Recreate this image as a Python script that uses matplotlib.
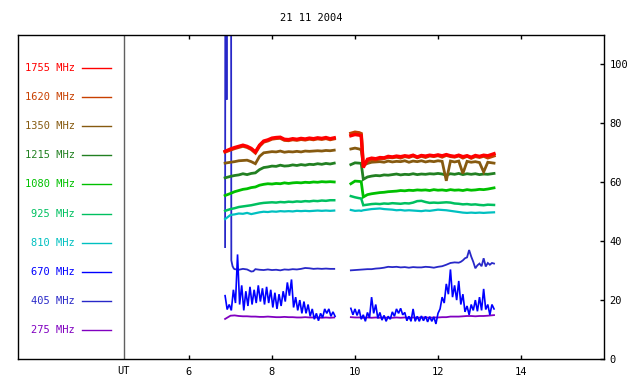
import numpy as np
import matplotlib
matplotlib.use('Agg')
import matplotlib.pyplot as plt

# time grids (UT hours) for the two observing blocks
t_a = [6.87, 7.0, 7.1, 7.2, 7.3, 7.4, 7.5, 7.6, 7.7, 7.8, 7.9, 8.0, 8.1, 8.2,
       8.3, 8.4, 8.5, 8.6, 8.7, 8.8, 8.9, 9.0, 9.1, 9.2, 9.3, 9.4, 9.5]
t_b = [9.9, 10.0, 10.1, 10.15, 10.2, 10.3, 10.4, 10.5, 10.6, 10.7, 10.8, 10.9,
       11.0, 11.1, 11.2, 11.3, 11.4, 11.5, 11.6, 11.7, 11.8, 11.9, 12.0, 12.1,
       12.2, 12.3, 12.4, 12.5, 12.6, 12.7, 12.8, 12.9, 13.0, 13.1, 13.2, 13.35]

f1755_a = [70.5, 71.3, 71.8, 72.2, 72.6, 72.2, 71.5, 70.3, 72.6, 74.0, 74.4, 75.0, 75.2, 75.3,
           74.6, 74.5, 74.8, 74.6, 74.9, 74.7, 75.0, 74.8, 75.1, 74.9, 75.2, 74.8, 75.1]
f1755_b = [75.8, 76.2, 76.0, 75.8, 65.0, 67.8, 68.2, 68.0, 68.4, 68.3, 68.8, 68.6,
           68.9, 68.7, 69.0, 68.8, 69.2, 68.6, 69.1, 68.9, 69.2, 69.0, 69.3, 69.0,
           69.4, 69.0, 68.8, 69.2, 68.7, 69.0, 68.5, 69.1, 68.8, 69.2, 69.0, 69.7]

f1620_a = [70.3, 71.0, 71.5, 71.9, 72.3, 71.9, 71.2, 70.0, 72.3, 73.7, 74.1, 74.7, 74.9, 75.0,
           74.3, 74.2, 74.5, 74.3, 74.6, 74.4, 74.7, 74.5, 74.8, 74.6, 74.9, 74.5, 74.8]
f1620_b = [76.6, 77.0, 76.8, 76.5, 66.0, 67.2, 67.8, 67.6, 68.0, 68.1, 68.5, 68.4,
           68.6, 68.3, 68.8, 68.5, 69.0, 68.4, 68.9, 68.5, 69.0, 68.8, 69.1, 68.6,
           69.2, 68.8, 68.6, 69.0, 68.3, 68.9, 68.2, 68.8, 68.5, 68.9, 68.3, 69.0]

f1350_a = [66.5, 66.8, 67.0, 67.3, 67.4, 67.5, 67.0, 66.3, 68.8, 70.0, 70.2, 70.4, 70.3, 70.6,
           70.2, 70.4, 70.3, 70.5, 70.3, 70.6, 70.5, 70.6, 70.7, 70.6, 70.8, 70.7, 70.9]
f1350_b = [71.3, 71.6, 71.3, 71.0, 65.8, 66.4, 66.8, 66.9, 67.0, 66.8, 67.2, 66.9,
           67.1, 67.0, 67.3, 66.8, 67.2, 67.0, 67.3, 66.9, 67.2, 67.0, 67.3, 67.1,
           60.5, 67.2, 66.9, 67.2, 63.0, 67.1, 66.8, 67.0, 66.7, 63.5, 66.8, 66.5]

f1215_a = [61.5, 62.0, 62.3, 62.5, 62.9, 62.6, 63.0, 63.2, 64.3, 65.0, 65.2, 65.5, 65.4, 65.8,
           65.5, 65.6, 65.9, 65.7, 66.0, 65.8, 66.1, 66.0, 66.3, 66.1, 66.4, 66.2, 66.5]
f1215_b = [66.0, 66.6, 66.5, 66.4, 61.0, 61.8, 62.1, 62.3, 62.2, 62.5, 62.4, 62.6,
           62.8, 62.5, 62.7, 62.6, 62.9, 62.6, 62.8, 62.7, 62.9, 62.8, 63.0, 62.8,
           62.4, 62.9, 62.7, 63.0, 62.6, 62.9, 62.7, 62.9, 62.6, 62.8, 62.7, 63.0]

f1080_a = [55.5, 56.2, 56.8, 57.2, 57.6, 57.8, 58.2, 58.4, 59.0, 59.3, 59.5, 59.4, 59.6, 59.5,
           59.8, 59.6, 59.8, 59.9, 59.8, 60.0, 59.9, 60.1, 60.0, 60.2, 60.1, 60.2, 60.1]
f1080_b = [59.5, 60.4, 60.3, 60.2, 55.0, 55.8, 56.1, 56.3, 56.5, 56.6, 56.8, 56.9,
           57.0, 57.2, 57.1, 57.3, 57.2, 57.4, 57.3, 57.4, 57.2, 57.5, 57.3, 57.4,
           57.2, 57.5, 57.3, 57.4, 57.2, 57.5, 57.3, 57.4, 57.6, 57.5, 57.7, 58.1]

f925_a = [50.3, 50.9, 51.2, 51.6, 51.8, 52.0, 52.2, 52.5, 52.8, 53.0, 53.1, 53.2, 53.1, 53.3,
          53.2, 53.4, 53.3, 53.5, 53.4, 53.6, 53.5, 53.7, 53.6, 53.8, 53.7, 53.9, 53.9]
f925_b = [55.3, 54.9, 54.6, 54.5, 52.2, 52.4, 52.6, 52.7, 52.6, 52.8, 52.7, 52.9,
          52.8, 52.7, 52.9, 52.8, 53.1, 53.6, 53.7, 53.3, 53.0, 53.1, 53.0, 53.1,
          53.2, 53.1, 52.8, 52.7, 52.5, 52.6, 52.4, 52.5, 52.3, 52.2, 52.4, 52.3]

f810_a = [47.5, 48.9, 49.1, 49.4, 49.3, 49.6, 49.2, 49.5, 49.8, 50.0, 49.9, 50.1, 50.0, 50.2,
          50.1, 50.2, 50.1, 50.3, 50.2, 50.3, 50.2, 50.3, 50.4, 50.3, 50.4, 50.3, 50.4]
f810_b = [50.6, 50.3, 50.4, 50.3, 50.5, 50.7, 50.9, 51.0, 51.1, 50.9, 50.8, 50.7,
          50.5, 50.6, 50.4, 50.5, 50.4, 50.3, 50.2, 50.4, 50.3, 50.5, 50.7, 50.6,
          50.5, 50.3, 50.1, 49.9, 49.7, 49.6, 49.7, 49.6, 49.7, 49.6, 49.7, 49.8]

f275_a = [13.6, 14.7, 14.8, 14.6, 14.5, 14.5, 14.4, 14.4, 14.3, 14.3, 14.4, 14.3, 14.2, 14.2,
          14.3, 14.2, 14.2, 14.1, 14.1, 14.2, 14.1, 14.1, 14.1, 14.0, 14.1, 14.0, 14.1]
f275_b = [14.2, 14.1, 14.1, 14.1, 14.0, 14.1, 14.0, 14.1, 14.0, 14.1, 14.0, 14.0,
          14.1, 14.0, 14.1, 14.0, 14.1, 14.0, 14.1, 14.1, 14.0, 14.1, 14.1, 14.2,
          14.2, 14.4, 14.4, 14.4, 14.5, 14.6, 14.6, 14.5, 14.6, 14.6, 14.7, 14.9]

# 405 MHz has its own sampling (burst at the start runs off the top)
t405_a = [6.87, 6.875, 6.90, 6.905, 6.91, 7.015, 7.02, 7.05, 7.08, 7.1, 7.2, 7.3, 7.4, 7.5,
          7.55, 7.6, 7.7, 7.8, 7.9, 8.0, 8.1, 8.2, 8.3, 8.4, 8.5, 8.6, 8.7, 8.8, 8.9,
          9.0, 9.1, 9.2, 9.3, 9.4, 9.5]
f405_a = [38.0, 120, 120, 88.0, 120, 120, 33.5, 31.5, 30.7, 30.5, 30.3, 30.6, 30.4, 29.7,
          29.8, 30.5, 30.3, 30.2, 30.4, 30.2, 30.3, 30.1, 30.4, 30.3, 30.5, 30.4, 30.6, 30.9,
          30.8, 30.6, 30.7, 30.6, 30.7, 30.6, 30.6]
t405_b = [9.9, 10.0, 10.1, 10.2, 10.3, 10.4, 10.5, 10.6, 10.7, 10.8, 10.9, 11.0, 11.1, 11.2,
          11.3, 11.4, 11.5, 11.6, 11.7, 11.8, 11.9, 12.0, 12.1, 12.2, 12.3, 12.4, 12.5,
          12.55, 12.6, 12.65, 12.7, 12.75, 12.8, 12.85, 12.9, 12.95, 13.0, 13.05, 13.1,
          13.15, 13.2, 13.25, 13.3, 13.35]
f405_b = [30.1, 30.2, 30.3, 30.4, 30.5, 30.5, 30.7, 30.8, 31.0, 31.3, 31.2, 31.3, 31.1, 31.2,
          31.0, 31.2, 31.1, 31.1, 31.3, 31.2, 31.0, 31.3, 31.5, 32.0, 32.6, 32.8, 32.7,
          33.0, 33.5, 34.2, 34.5, 37.0, 34.8, 33.0, 30.8, 31.8, 32.4, 31.5, 34.2,
          31.4, 32.6, 32.0, 32.6, 32.4]

# 670 MHz is noisy: read every 0.05 h, upper / lower edge of the band in turn
f670_a = [21.5, 16.8, 18.5, 16.5, 23.5, 19.0, 35.5, 18.5, 25.0, 16.5,
          23.0, 18.0, 24.5, 18.5, 23.5, 19.0, 25.0, 19.5, 24.0, 18.5,
          24.5, 19.0, 23.5, 17.5, 22.5, 17.0, 22.0, 18.0, 23.0, 19.5,
          26.0, 21.5, 27.0, 17.5, 21.0, 16.5, 20.0, 15.5, 19.5, 15.5,
          18.5, 14.5, 17.0, 13.5, 15.5, 13.0, 15.5, 14.0, 17.0, 15.5,
          17.0, 14.5, 16.0, 14.5]
f670_b = [17.2, 15.0, 17.0, 14.8, 16.8, 13.5, 15.0, 12.8, 15.8, 14.0,
          21.0, 15.5, 18.5, 13.8, 15.8, 13.2, 14.8, 12.8, 14.5, 13.5,
          16.0, 14.5, 17.0, 15.5, 17.2, 15.0, 15.8, 13.0, 14.5, 12.8,
          17.0, 12.8, 14.5, 12.8, 14.6, 13.0, 14.5, 12.6, 14.4, 12.8,
          14.3, 11.9, 15.5, 17.0, 21.0, 19.0, 25.5, 22.0, 30.4, 21.0,
          25.0, 20.0, 26.5, 18.5, 22.0, 16.0, 18.0, 15.0, 18.5, 16.5,
          20.0, 16.2, 21.0, 16.5, 23.8, 16.8, 18.5, 15.0, 18.5, 17.0]
t670_a = np.round(6.87 + 0.05 * np.arange(len(f670_a)), 3)
t670_b = np.round(9.90 + 0.05 * np.arange(len(f670_b)), 3)

labels = ['1755 MHz', '1620 MHz', '1350 MHz', '1215 MHz', '1080 MHz',
          '925 MHz', '810 MHz', '670 MHz', '405 MHz', '275 MHz']
colors = ['#ff0000', '#c84000', '#865a10', '#228022', '#00c000',
          '#00c060', '#00c0c0', '#0000ff', '#2828c8', '#8000c0']


def join(ta, va, tb, vb):
    # one line with a break in the data gap
    t = np.concatenate([ta, [np.nan], tb])
    v = np.concatenate([va, [np.nan], vb])
    return t, v


series = [
    (t_a, f1755_a, t_b, f1755_b, 2.4),
    (t_a, f1620_a, t_b, f1620_b, 2.4),
    (t_a, f1350_a, t_b, f1350_b, 2.0),
    (t_a, f1215_a, t_b, f1215_b, 2.0),
    (t_a, f1080_a, t_b, f1080_b, 2.0),
    (t_a, f925_a, t_b, f925_b, 1.8),
    (t_a, f810_a, t_b, f810_b, 1.6),
    (t670_a, f670_a, t670_b, f670_b, 1.2),
    (t405_a, f405_a, t405_b, f405_b, 1.3),
    (t_a, f275_a, t_b, f275_b, 1.3),
]

mono = 'DejaVu Sans Mono'
fs = 7.5

fig = plt.figure(figsize=(6.4, 3.84), dpi=100)
ax = fig.add_axes([18/640, 25/384, 586/640, 324/384])

# draw from lowest frequency up so 1755 ends on top
for (ta, va, tb, vb, lw), col in reversed(list(zip(series, colors))):
    t, v = join(ta, va, tb, vb)
    ax.plot(t, v, color=col, lw=lw, solid_joinstyle='miter')

ax.set_xlim(1.88, 16.0)
ax.set_ylim(0, 110)
ax.axvline(4.43, color='#606060', lw=1)

for s in ax.spines.values():
    s.set_linewidth(1)
    s.set_color('black')

ax.set_xticks([6, 8, 10, 12, 14])
ax.set_xticklabels(['6', '8', '10', '12', '14'], fontfamily=mono, fontsize=fs)
ax.tick_params(axis='x', direction='in', top=True, bottom=True, length=3, width=1, pad=6)
ax.yaxis.tick_right()
ax.set_yticks([0, 20, 40, 60, 80, 100])
ax.set_yticklabels(['0', '20', '40', '60', '80', '100'], fontfamily=mono, fontsize=fs)
ax.tick_params(axis='y', direction='in', left=False, right=True, length=3, width=1, pad=4)

ax.text(4.43, -2.3, 'UT', ha='center', va='top', fontfamily=mono, fontsize=fs)

# legend block inside the left part of the frame
for i, (lab, col) in enumerate(zip(labels, colors)):
    y = 0.898 - i * 0.0898
    ax.text(0.0975, y, lab, transform=ax.transAxes, ha='right', va='center',
            color=col, fontfamily=mono, fontsize=fs)
    ax.plot([0.109, 0.159], [y, y], transform=ax.transAxes, color=col, lw=1)

fig.text(311/640, 1 - 18/384, '21 11 2004', ha='center', va='center',
         fontfamily=mono, fontsize=fs)

fig.savefig('out.png', dpi=100)
